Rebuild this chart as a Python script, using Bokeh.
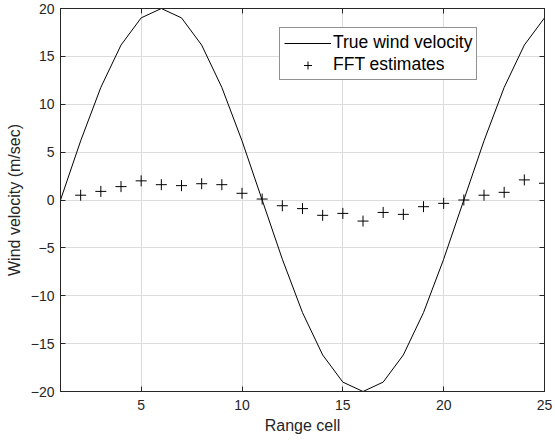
from bokeh.plotting import figure
from bokeh.models import Range1d, FixedTicker, Legend, LegendItem, LinearAxis
from bokeh.embed import file_html
from bokeh.resources import INLINE

cells = list(range(1, 26))
true_vel = [0, 6.18, 11.76, 16.18, 19.02, 20, 19.02, 16.18, 11.76, 6.18, 0,
            -6.18, -11.76, -16.18, -19.02, -20, -19.02, -16.18, -11.76, -6.18, 0,
            6.18, 11.76, 16.18, 19.02]
est_cells = list(range(2, 26))
fft_est = [0.5, 0.9, 1.4, 2.0, 1.6, 1.5, 1.7, 1.6, 0.7, 0.1, -0.6, -0.9,
           -1.6, -1.4, -2.2, -1.3, -1.5, -0.7, -0.35, 0.0, 0.5, 0.8, 2.1, 1.75]
x_ticks = [5, 10, 15, 20, 25]
y_ticks = [-20, -15, -10, -5, 0, 5, 10, 15, 20]

FONT = "Liberation Sans"
AX = "#262626"
p = figure(width=555, height=442, output_backend="svg", toolbar_location=None,
           x_range=Range1d(1, 25), y_range=Range1d(-20, 20),
           min_border_left=60, min_border_right=11, min_border_top=8, min_border_bottom=51)
p.outline_line_color = AX
p.outline_line_width = 1
p.background_fill_color = "white"

p.grid.grid_line_color = "#dcdcdc"
p.grid.grid_line_width = 1
p.xgrid.ticker = FixedTicker(ticks=x_ticks)
p.ygrid.ticker = FixedTicker(ticks=y_ticks)

l1 = p.line(cells, true_vel, line_color="black", line_width=1)
s1 = p.scatter(est_cells, fft_est, marker="cross", size=11, line_color="black", line_width=1)

for ax in (p.xaxis[0], p.yaxis[0]):
    ax.major_tick_in = 5
    ax.major_tick_out = 0
    ax.minor_tick_line_color = None
    ax.axis_line_color = AX
    ax.major_tick_line_color = AX
    ax.major_label_text_font = FONT
    ax.major_label_text_font_size = "14px"
    ax.major_label_text_color = AX
    ax.axis_label_text_font = FONT
    ax.axis_label_text_font_size = "16px"
    ax.axis_label_text_font_style = "normal"
    ax.axis_label_text_color = AX

p.xaxis.ticker = FixedTicker(ticks=x_ticks)
p.yaxis.ticker = FixedTicker(ticks=y_ticks)
p.xaxis.axis_label = "Range cell"
p.yaxis.axis_label = "Wind velocity (m/sec)"
p.xaxis.major_label_standoff = 8
p.yaxis.major_label_standoff = 6
p.xaxis.axis_label_standoff = 4
p.yaxis.axis_label_standoff = 5

# box ticks on the right and top edges, without labels
for loc, tk in (("right", y_ticks), ("above", x_ticks)):
    p.add_layout(LinearAxis(ticker=FixedTicker(ticks=tk), major_tick_in=5, major_tick_out=0,
                            minor_tick_line_color=None, axis_line_color=AX,
                            major_tick_line_color=AX, major_label_text_color=None,
                            major_label_text_font_size="1px", major_label_standoff=0), loc)

legend = Legend(items=[LegendItem(label="True wind velocity", renderers=[l1]),
                       LegendItem(label="FFT estimates", renderers=[s1])],
                location=(219, 311))
legend.border_line_color = AX
legend.border_line_width = 1
legend.label_text_font = FONT
legend.label_text_font_size = "17.5px"
legend.label_text_color = "black"
legend.glyph_width = 47
legend.glyph_height = 20
legend.label_height = 20
legend.spacing = 1
legend.padding = 4
legend.margin = 0
legend.label_standoff = 2
p.add_layout(legend, "center")

open("out.html", "w").write(file_html(p, INLINE))
